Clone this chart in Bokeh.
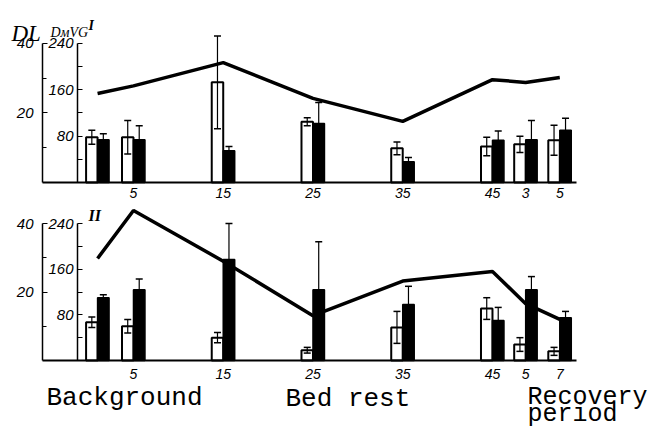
from bokeh.plotting import figure
from bokeh.models import (Range1d, LinearAxis, FixedTicker, Label, Whisker,
                          ColumnDataSource, TeeHead)
from bokeh.embed import file_html
from bokeh.resources import INLINE

# ---------------- data ----------------
days = [1, 5, 15, 25, 35, 45, 48.7, 52.5]          # timeline position of each group
tick_days = [5, 15, 25, 35, 45, 48.7, 52.5]
top_tick_labels = ["5", "15", "25", "35", "45", "3", "5"]
bot_tick_labels = ["5", "15", "25", "35", "45", "5", "7"]

# panel I
top_dm = [78, 78, 173, 105, 59, 62, 66, 73]        # white bars (DmVG axis)
top_dm_err = [12, 29, 80, 7, 11, 16, 14, 26]
top_vc = [74, 74, 55, 102, 36, 73, 74, 90]         # black bars
top_vc_err = [10, 24, 7, 36, 7, 16, 33, 21]
top_dl = [25.6, 27.8, 34.5, 24.2, 17.6, 29.6, 28.8, 30.2]   # line (DL axis)

# panel II
bot_dm = [67, 60, 40, 18, 58, 91, 28, 16]
bot_dm_err = [9, 12, 9, 5, 28, 19, 12, 7]
bot_vc = [110, 124, 177, 124, 98, 70, 124, 75]
bot_vc_err = [5, 19, 63, 84, 32, 23, 23, 11]
bot_dl = [29.8, 43.8, 29.0, 13.1, 23.2, 26.0, 16.6, 12.0]

dl_ticks, dl_minor = [20, 40], [10, 30]
dm_ticks, dm_minor = [80, 160, 240], [40, 120, 200]

# ---------------- layout helpers ----------------
W, H = 654, 429
OFF = 0
X0, XS = 88.1, 8.975            # page x of day 0, px per day


def X(px):                      # page px -> day
    return (px - X0) / XS


def yr(base, scale, div=1.0):
    return Range1d((base - (OFF + H)) / scale / div, (base - OFF) / scale / div)


TB, TS = 182.0, 0.5792          # top panel baseline / px per unit
BB, BS = 360.0, 0.5708          # bottom panel


def YT(py):
    return (TB - py) / TS


def YB(py):
    return (BB - py) / BS


p = figure(width=W, height=H, x_range=Range1d(X(OFF), X(OFF + W)),
           y_range=yr(TB, TS), output_backend="svg", toolbar_location=None,
           x_axis_location=None, y_axis_location=None, min_border=0,
           outline_line_color=None)
p.xgrid.visible = False
p.ygrid.visible = False
p.extra_y_ranges = {"tdl": yr(TB, TS, 6.0), "bot": yr(BB, BS), "bdl": yr(BB, BS, 6.0)}

FONT = "Liberation Sans"
BW = 1.28

for rng, dlr, dm, dme, vc, vce, dl, labels, stand in [
        ("default", "tdl", top_dm, top_dm_err, top_vc, top_vc_err, top_dl, top_tick_labels, 5),
        ("bot", "bdl", bot_dm, bot_dm_err, bot_vc, bot_vc_err, bot_dl, bot_tick_labels, 8)]:
    xw = [d - BW / 2 for d in days]
    xb = [d + BW / 2 for d in days]
    src = ColumnDataSource(dict(
        xw=xw, xb=xb, dm=dm, vc=vc,
        dm_lo=[a - b for a, b in zip(dm, dme)], dm_hi=[a + b for a, b in zip(dm, dme)],
        vc_lo=[a - b for a, b in zip(vc, vce)], vc_hi=[a + b for a, b in zip(vc, vce)]))
    p.vbar(x="xw", width=BW, top="dm", bottom=0, source=src, fill_color="white",
           line_color="black", line_width=2, y_range_name=rng)
    p.vbar(x="xb", width=BW, top="vc", bottom=0, source=src, fill_color="black",
           line_color="black", line_width=1.5, y_range_name=rng)
    for base, lo, hi in [("xw", "dm_lo", "dm_hi"), ("xb", "vc_lo", "vc_hi")]:
        w = Whisker(source=src, base=base, lower=lo, upper=hi, dimension="height",
                    y_range_name=rng, line_color="black", line_width=1.2,
                    upper_head=TeeHead(size=7, line_width=1.5, line_color="black"),
                    lower_head=TeeHead(size=7, line_width=1.5, line_color="black"),
                    level="overlay")
        p.add_layout(w)
    p.line(days, dl, line_color="black", line_width=3.5, y_range_name=dlr)

    # x axis (baseline)
    xa = LinearAxis(y_range_name=rng, fixed_location=0, bounds=(X(42), X(576)),
                    ticker=FixedTicker(ticks=tick_days),
                    major_label_overrides={d: s for d, s in zip(tick_days, labels)},
                    major_tick_in=0, major_tick_out=0, minor_tick_in=0, minor_tick_out=0,
                    axis_line_width=2, major_label_standoff=stand,
                    major_label_text_font=FONT, major_label_text_font_style="italic",
                    major_label_text_font_size="14px", major_label_text_color="black")
    p.add_layout(xa, "below")

    # DL axis
    ya = LinearAxis(y_range_name=dlr, fixed_location=X(42), bounds=(0, 40),
                    ticker=FixedTicker(ticks=dl_ticks, minor_ticks=dl_minor),
                    major_tick_in=5, major_tick_out=0, minor_tick_in=4, minor_tick_out=0,
                    axis_line_width=1.5, major_label_standoff=9,
                    major_label_text_font=FONT, major_label_text_font_style="italic",
                    major_label_text_font_size="15px", major_label_text_color="black")
    p.add_layout(ya, "left")
    # DmVG axis
    yb = LinearAxis(y_range_name=rng, fixed_location=X(77), bounds=(0, 240),
                    ticker=FixedTicker(ticks=dm_ticks, minor_ticks=dm_minor),
                    major_tick_in=5, major_tick_out=0, minor_tick_in=5, minor_tick_out=0,
                    axis_line_width=1.5, major_label_standoff=4,
                    major_label_text_font=FONT, major_label_text_font_style="italic",
                    major_label_text_font_size="15px", major_label_text_color="black")
    p.add_layout(yb, "left")


def lab(text, px, py, rname, size, font="Liberation Serif", style="italic"):
    y = YT(py) if rname == "default" else YB(py)
    p.add_layout(Label(x=X(px), y=y, y_range_name=rname, text=text, text_font=font,
                       text_font_style=style, text_font_size=size, text_color="black",
                       text_baseline="alphabetic"))


lab("DL", 11, 33, "default", "23px")
lab("DмVG", 50, 32, "default", "14px")
lab("I", 88, 25, "default", "14px", style="bold italic")
lab("II", 88, 215, "bot", "16px", style="bold italic")

MONO = "Liberation Mono"
lab("Background", 46, 397, "bot", "26px", font=MONO, style="normal")
lab("Bed rest", 285, 398, "bot", "26px", font=MONO, style="normal")
lab("Recovery", 527, 397, "bot", "25px", font=MONO, style="normal")
lab("period", 527, 414, "bot", "25px", font=MONO, style="normal")

open("out.html", "w").write(file_html(p, INLINE))
